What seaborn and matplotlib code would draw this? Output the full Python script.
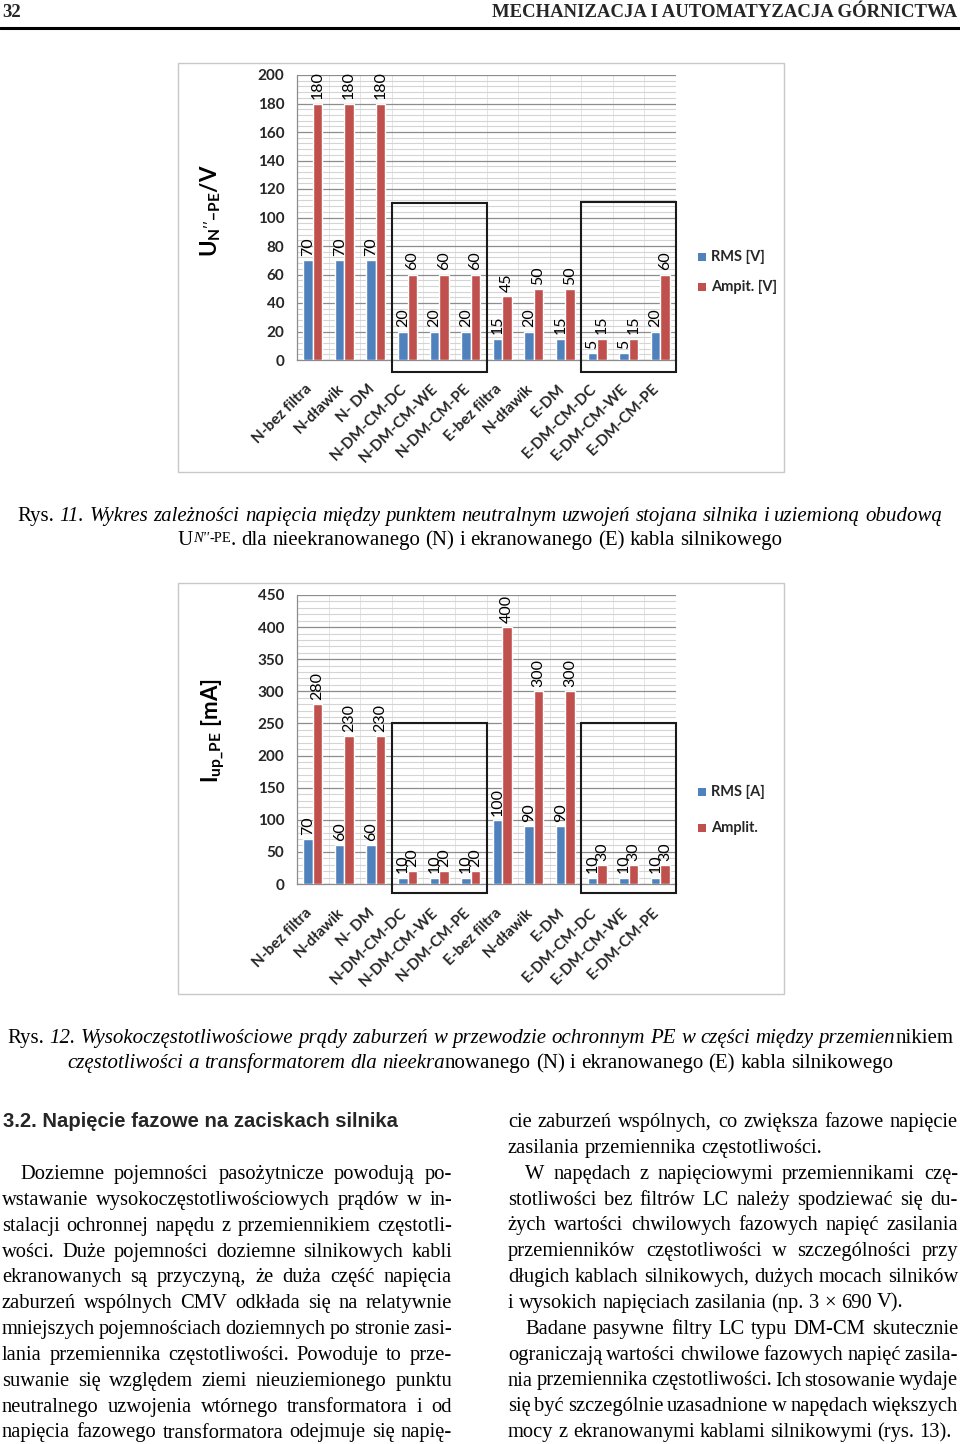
import numpy as np
import pandas as pd
import matplotlib
matplotlib.use("Agg")
import matplotlib.pyplot as plt
import seaborn as sns
from matplotlib.patches import Rectangle
from matplotlib.transforms import IdentityTransform, ScaledTranslation
from matplotlib.ticker import MultipleLocator

# ---------------- data ----------------
categories = ["N-bez filtra", "N-dławik", "N- DM", "N-DM-CM-DC", "N-DM-CM-WE", "N-DM-CM-PE",
              "E-bez filtra", "N-dławik", "E-DM", "E-DM-CM-DC", "E-DM-CM-WE", "E-DM-CM-PE"]
u_rms = [70, 70, 70, 20, 20, 20, 15, 20, 15, 5, 5, 20]
u_amp = [180, 180, 180, 60, 60, 60, 45, 50, 50, 15, 15, 60]
i_rms = [70, 60, 60, 10, 10, 10, 100, 90, 90, 10, 10, 10]
i_amp = [280, 230, 230, 20, 20, 20, 400, 300, 300, 30, 30, 30]
legend1 = ["RMS [V]", "Ampit. [V]"]
legend2 = ["RMS [A]", "Amplit."]

BLUE = "#4F81BD"
RED = "#C0504D"
W, H = 960, 1444

sns.set_theme(style="white")
plt.rcParams["font.family"] = ["Lato", "DejaVu Sans"]
plt.rcParams["mathtext.fontset"] = "custom"
plt.rcParams["mathtext.bf"] = "Lato:bold"
plt.rcParams["mathtext.rm"] = "Lato"
plt.rcParams["mathtext.it"] = "Lato:italic"

fig = plt.figure(figsize=(W / 100, H / 100), dpi=100)
fig.patch.set_facecolor("white")


def fx(px):
    return px / W


def fy(py):
    return 1 - py / H


def make_chart(rect_px, frame_px, rms, amp, ymax, major, minor, ylabel, leg, leg_y, boxes):
    fl, ft, fr, fb = frame_px
    fig.patches.append(Rectangle((fx(fl), fy(fb)), fx(fr - fl), (fb - ft) / H,
                                 transform=fig.transFigure, facecolor="none",
                                 edgecolor="#c8c8c8", lw=1.0, zorder=-1))
    l, t, r, b = rect_px
    ax = fig.add_axes([fx(l), fy(b), fx(r - l), (b - t) / H])
    ax.set_facecolor("none")
    n = len(categories)
    df = pd.DataFrame({
        "idx": list(range(n)) * 2,
        "val": list(rms) + list(amp),
        "series": ["rms"] * n + ["amp"] * n,
    })
    sns.barplot(data=df, x="idx", y="val", hue="series", palette=[BLUE, RED],
                width=0.6, saturation=1, ax=ax, legend=False, zorder=3)
    for c in ax.containers:
        ax.bar_label(c, rotation=90, padding=3, fontsize=11.5, color="black",
                     family=["Lato", "DejaVu Sans"])
    ax.set_xlim(-0.5, n - 0.5)
    ax.set_ylim(0, ymax)
    ax.yaxis.set_major_locator(MultipleLocator(major))
    ax.yaxis.set_minor_locator(MultipleLocator(minor))
    ax.grid(which="major", axis="y", color="#8c8c8c", lw=0.9, zorder=0)
    ax.grid(which="minor", axis="y", color="#d4d4d4", lw=0.8, zorder=0)
    for xb in np.arange(0.5, n - 0.5, 1.0):
        ax.axvline(xb, color="#e4e4e4", lw=0.7, zorder=0)
    for s in ["top", "right"]:
        ax.spines[s].set_visible(False)
    for s in ["left", "bottom"]:
        ax.spines[s].set_color("#8c8c8c")
        ax.spines[s].set_linewidth(0.9)
    ax.set_xticks(range(n))
    ax.set_xticklabels(categories, rotation=45, ha="right", rotation_mode="anchor",
                       fontsize=11, fontweight="bold")
    ax.tick_params(axis="x", which="major", length=0, pad=15.5)
    shift = ScaledTranslation(-8 / 100, 0, fig.dpi_scale_trans)
    for lab in ax.get_xticklabels():
        lab.set_transform(lab.get_transform() + shift)
    ax.set_xticks(np.arange(-0.5, n, 1.0), minor=True)
    ax.tick_params(axis="x", which="minor", length=5, color="#8c8c8c", width=0.9, direction="out")
    ax.tick_params(axis="y", which="major", length=5, color="#8c8c8c", width=0.9,
                   direction="out", labelsize=11, pad=4)
    ax.tick_params(axis="y", which="minor", length=0)
    for lab in ax.get_yticklabels():
        lab.set_fontweight("bold")
    ax.set_xlabel("")
    ax.set_ylabel("")
    for (x0, x1, y0, y1) in boxes:
        ax.add_patch(Rectangle((x0, y0), x1 - x0, y1 - y0, fill=False, edgecolor="#1a1a1a",
                               lw=1.5, clip_on=False, zorder=5))
    txt, lx, ly = ylabel
    fig.text(fx(lx), fy(ly), txt, rotation=90, ha="center", va="center", fontsize=16,
             color="black")
    for k, (lab, col) in enumerate(zip(leg, [BLUE, RED])):
        yy = leg_y[k]
        fig.patches.append(Rectangle((fx(698), fy(yy + 4)), fx(8), 8 / H,
                                     transform=fig.transFigure, facecolor=col, edgecolor="none"))
        fig.text(fx(711), fy(yy), lab, ha="left", va="center", fontsize=10.5, fontweight="bold")
    return ax


make_chart((297, 75, 676, 360), (178, 63, 784, 472), u_rms, u_amp, 200, 20, 4,
           (r"$\mathbf{U}_{\mathbf{N^{\prime\prime}{-}PE}}\mathbf{/V}$", 211, 211),
           legend1, (257, 287),
           [(2.5, 5.5, -8.4, 110), (8.5, 11.5, -8.4, 111)])
make_chart((297, 595, 676, 884), (178, 583, 784, 994), i_rms, i_amp, 450, 50, 10,
           (r"$\mathbf{I}_{\mathbf{up\_PE}}\mathbf{\ [mA]}$", 213, 731),
           legend2, (792, 828),
           [(2.5, 5.5, -14, 250), (8.5, 11.5, -14, 250)])

# ---------------- page text ----------------
renderer = fig.canvas.get_renderer()
ID = IdentityTransform()
SERIF = ["Liberation Serif", "DejaVu Serif"]


def measure(text, size, style="normal", weight="normal", family=SERIF):
    t = fig.text(0, 0, text, fontsize=size, style=style, weight=weight, family=family,
                 transform=ID)
    w = t.get_window_extent(renderer).width
    t.remove()
    return w


def space_w(size, style="normal", weight="normal", family=SERIF):
    return measure("a a", size, style, weight, family) - measure("aa", size, style, weight, family)


def draw_word(runs, x, ybase, size, family=SERIF, weight="normal", draw=True):
    cx = x
    for (t, st, sc, dy) in runs:
        if draw:
            fig.text(cx, H - ybase - dy, t, fontsize=size * sc, style=st, weight=weight,
                     family=family, transform=ID, va="baseline", ha="left", color="black")
        cx += measure(t, size * sc, st, weight, family)
    return cx - x


def line(words, ybase, size, x0=None, x1=None, center=None, justify=False,
         family=SERIF, weight="normal", default_style="normal"):
    ws = []
    for w in words:
        if isinstance(w, str):
            w = [(w, default_style, 1.0, 0)]
        ws.append(w)
    widths = [draw_word(w, 0, 0, size, family, weight, draw=False) for w in ws]
    sp = space_w(size, default_style, weight, family)
    if justify and len(ws) > 1:
        gap = (x1 - x0 - sum(widths)) / (len(ws) - 1)
        gap = max(gap, sp * 0.6)
        start = x0
    else:
        gap = sp
        total = sum(widths) + sp * (len(ws) - 1)
        start = center - total / 2 if center is not None else x0
    cx = start
    for w, wd in zip(ws, widths):
        draw_word(w, cx, ybase, size, family, weight)
        cx += wd + gap


def styled(text, style):
    return [[(w, style, 1.0, 0)] for w in text.split()]


# header
fig.text(2, H - 17, "32", fontsize=13.5, weight="bold", family=SERIF, transform=ID,
         va="baseline", ha="left")
fig.text(957, H - 17, "MECHANIZACJA I AUTOMATYZACJA GÓRNICTWA", fontsize=13.5,
         weight="bold", family=SERIF, transform=ID, va="baseline", ha="right")
fig.add_artist(plt.Line2D([0, 1], [fy(28), fy(28)], transform=fig.transFigure,
                          color="black", lw=2.2))

# caption 1
cap_size = 15
l1 = styled("Rys.", "normal") + styled(
    "11. Wykres zależności napięcia między punktem neutralnym uzwojeń stojana silnika i uziemioną obudową",
    "italic")
line(l1, 521, cap_size, center=480)
sub = [("U", "normal", 1.0, 0), ("N''", "italic", 0.7, -3), ("-PE", "normal", 0.7, -3),
       (".", "normal", 1.0, 0)]
l2 = [sub] + styled("dla nieekranowanego (N) i ekranowanego (E) kabla silnikowego", "normal")
line(l2, 545, cap_size, center=480)

# caption 2
l3 = styled("Rys.", "normal") + styled(
    "12. Wysokoczęstotliwościowe prądy zaburzeń w przewodzie ochronnym PE w części między",
    "italic") + [[("przemien", "italic", 1.0, 0), ("nikiem", "normal", 1.0, 0)]]
line(l3, 1043, cap_size, center=480)
l4 = styled("częstotliwości a transformatorem dla", "italic") + \
    [[("nieekra", "italic", 1.0, 0), ("nowanego", "normal", 1.0, 0)]] + \
    styled("(N) i ekranowanego (E) kabla silnikowego", "normal")
line(l4, 1068, cap_size, center=480)

# section heading
fig.text(3, H - 1127, "3.2. Napięcie fazowe na zaciskach silnika", fontsize=14.6,
         weight="bold", family=["Liberation Sans", "DejaVu Sans"], transform=ID,
         va="baseline", ha="left")

body = 14.8
left_lines = [
    ("Doziemne pojemności pasożytnicze powodują po-", True, 20),
    ("wstawanie wysokoczęstotliwościowych prądów w in-", True, 2),
    ("stalacji ochronnej napędu z przemiennikiem częstotli-", True, 2),
    ("wości. Duże pojemności doziemne silnikowych kabli", True, 2),
    ("ekranowanych są przyczyną, że duża część napięcia", True, 2),
    ("zaburzeń wspólnych CMV odkłada się na relatywnie", True, 2),
    ("mniejszych pojemnościach doziemnych po stronie zasi-", True, 2),
    ("lania przemiennika częstotliwości. Powoduje to prze-", True, 2),
    ("suwanie się względem ziemi nieuziemionego punktu", True, 2),
    ("neutralnego uzwojenia wtórnego transformatora i od", True, 2),
    ("napięcia fazowego transformatora odejmuje się napię-", True, 2),
]
right_lines = [
    ("cie zaburzeń wspólnych, co zwiększa fazowe napięcie", True, 508),
    ("zasilania przemiennika częstotliwości.", False, 508),
    ("W napędach z napięciowymi przemiennikami czę-", True, 525),
    ("stotliwości bez filtrów LC należy spodziewać się du-", True, 508),
    ("żych wartości chwilowych fazowych napięć zasilania", True, 508),
    ("przemienników częstotliwości w szczególności przy", True, 508),
    ("długich kablach silnikowych, dużych mocach silników", True, 508),
    ("i wysokich napięciach zasilania (np. 3 × 690 V).", False, 508),
    ("Badane pasywne filtry LC typu DM-CM skutecznie", True, 525),
    ("ograniczają wartości chwilowe fazowych napięć zasila-", True, 508),
    ("nia przemiennika częstotliwości. Ich stosowanie wydaje", True, 508),
    ("się być szczególnie uzasadnione w napędach większych", True, 508),
    ("mocy z ekranowanymi kablami silnikowymi (rys. 13).", False, 508),
]
lsp = 25.85
for k, (txt, just, x0) in enumerate(left_lines):
    yb = 1179 + k * lsp
    line(styled(txt, "normal"), yb, body, x0=x0, x1=452, justify=just)
for k, (txt, just, x0) in enumerate(right_lines):
    yb = 1127 + k * lsp
    line(styled(txt, "normal"), yb, body, x0=x0, x1=958, justify=just)

fig.savefig("out.png", dpi=100, facecolor="white")
